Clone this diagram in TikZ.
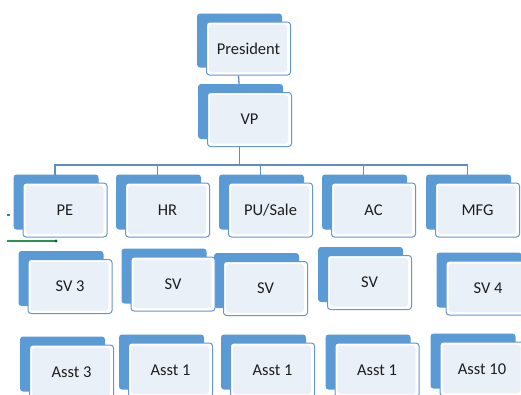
\documentclass[tikz,border=0pt]{standalone}
\usepackage{fontspec}
\setmainfont{Carlito}
\usetikzlibrary{backgrounds,calc}
\definecolor{backblue}{RGB}{91,155,213}
\definecolor{edgeblue}{RGB}{100,150,210}
\definecolor{frontfill}{RGB}{234,240,248}
\definecolor{linkblue}{RGB}{95,140,195}
\definecolor{txt}{RGB}{30,30,30}
\definecolor{selgreen}{RGB}{40,150,80}
\tikzset{
  orgbox/.style={draw=edgeblue, line width=1pt, fill=white, rounded corners=3pt,
    minimum width=84pt, minimum height=54pt, inner sep=0pt, text=txt,
    font=\fontsize{16.5}{19}\selectfont,
    path picture={\fill[frontfill] ([shift={(2.5pt,3pt)}]path picture bounding box.south west)
      rectangle ([shift={(-3.5pt,-2.5pt)}]path picture bounding box.north east);}},
  backtab/.style={fill=backblue, rounded corners=3pt},
  link/.style={draw=linkblue, line width=1.3pt},
  selline/.style={draw=selgreen, line width=1.3pt},
}
\newcommand{\tabof}[1]{\fill[backtab] ([shift={(-9pt,8pt)}]#1.north west) rectangle ([shift={(-9pt,8pt)}]#1.south east);}
\begin{document}
\begin{tikzpicture}[x=1pt,y=-1pt]
\useasboundingbox (0,0) rectangle (521,394);
\node[orgbox, minimum height=53pt] (pres) at (248.5,48.5) {President};
\node[orgbox] (vp) at (249.5,119.5) {VP};
\node[orgbox] (pe) at (65,210) {PE};
\node[orgbox] (hr) at (167.5,210) {HR};
\node[orgbox] (pu) at (270.5,210) {PU/Sale};
\node[orgbox] (ac) at (373.5,210) {AC};
\node[orgbox] (mfg) at (477.5,210) {MFG};
\node[orgbox] (sv3) at (70,286.5) {SV 3};
\node[orgbox] (svhr) at (173,284) {SV};
\node[orgbox] (svpu) at (265.5,288.5) {SV};
\node[orgbox] (svac) at (369.5,282.5) {SV};
\node[orgbox] (sv4) at (488,288) {SV 4};
\node[orgbox] (a3) at (71.5,372) {Asst 3};
\node[orgbox] (ahr) at (170.5,370) {Asst 1};
\node[orgbox] (apu) at (272.5,370) {Asst 1};
\node[orgbox] (aac) at (377,370) {Asst 1};
\node[orgbox] (a10) at (482,369) {Asst 10};
\begin{pgfonlayer}{background}
  \draw[link] ([xshift=-10pt]pres.south) -- ([xshift=-10pt]vp.north);
  \draw[link] ([xshift=-10pt]vp.south) -- ++(0,18) coordinate (bus);
  \foreach \n in {pe,hr,pu,ac,mfg}{\draw[link] ([xshift=-10pt]\n.north) |- (bus);}
  \foreach \n in {pres,vp,pe,hr,pu,ac,mfg,sv3,svhr,svpu,svac,sv4,a3,ahr,apu,aac,a10}{\tabof{\n}}
\end{pgfonlayer}
\coordinate (g1) at (7,215);
\coordinate (g1e) at (10,215);
\coordinate (g2) at (7,241);
\coordinate (g2e) at (56,241);
\draw[selline] (g1) -- (g1e);
\draw[selline] (g2) -- (g2e);
\fill[selgreen!60!black] (g2e) circle (1.6pt);
\end{tikzpicture}
\end{document}
